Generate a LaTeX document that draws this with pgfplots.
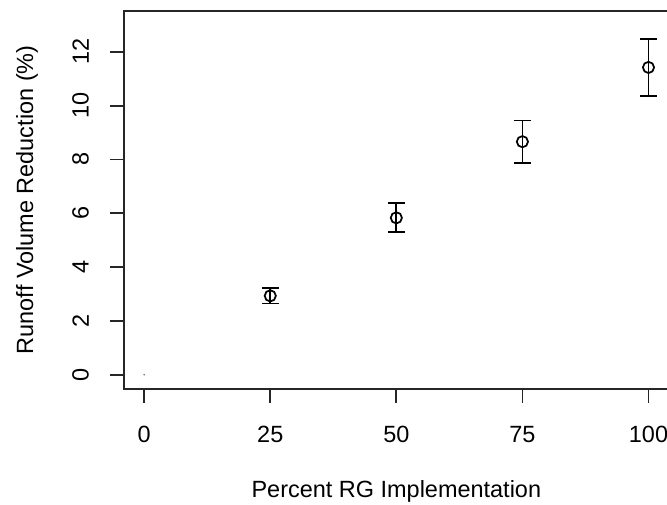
\documentclass[border=0pt]{standalone}
\usepackage{fontspec}
\setmainfont{Liberation Sans}
\usepackage{pgfplots}
\pgfplotsset{compat=1.18}
\begin{document}
\fontsize{17.6}{21}\selectfont
\begin{tikzpicture}
\useasboundingbox (0,0) rectangle (500.25pt,378pt);
\clip (0,0) rectangle (500.25pt,378pt);
\begin{axis}[
  at={(93pt,86.5pt)}, anchor=south west,
  scale only axis, width=408.5pt, height=283.3pt,
  xmin=-4, xmax=104, ymin=-0.52, ymax=13.52,
  axis line style={line width=1.3pt, black!85},
  xtick={0,25,50,75,100}, ytick={0,2,4,6,8,10,12},
  xtick pos=bottom, ytick pos=left,
  tick align=outside, major tick length=10.5pt,
  tick style={line width=1.3pt, black!85},
  /pgf/number format/assume math mode=true,
  font=\fontsize{17.6}{21}\selectfont,
  xticklabel style={anchor=center, yshift=-24pt},
  yticklabel style={rotate=90, anchor=center, yshift=22pt},
  xlabel={Percent RG Implementation},
  ylabel={Runoff Volume Reduction (\%)},
  xlabel style={at={(axis description cs:0.5,0)}, anchor=center, yshift=-77.3pt},
  ylabel style={at={(axis description cs:0,0.5)}, anchor=center, yshift=72.75pt},
]
\addplot[only marks, mark=*, mark size=0.4pt, gray] coordinates {(0,0)};
\addplot[only marks, black, mark=o, mark size=4.2pt, mark options={line width=1.3pt},
  error bars/.cd, y dir=both, y explicit,
  error bar style={line width=1.3pt, black},
  error mark=|, error mark options={mark size=6.2pt, line width=1.3pt}]
  coordinates {
  (25,2.93) +- (0,0.28)
  (50,5.83) +- (0,0.54)
  (75,8.66) +- (0,0.79)
  (100,11.42) +- (0,1.05)
};
\end{axis}
\end{tikzpicture}
\end{document}
